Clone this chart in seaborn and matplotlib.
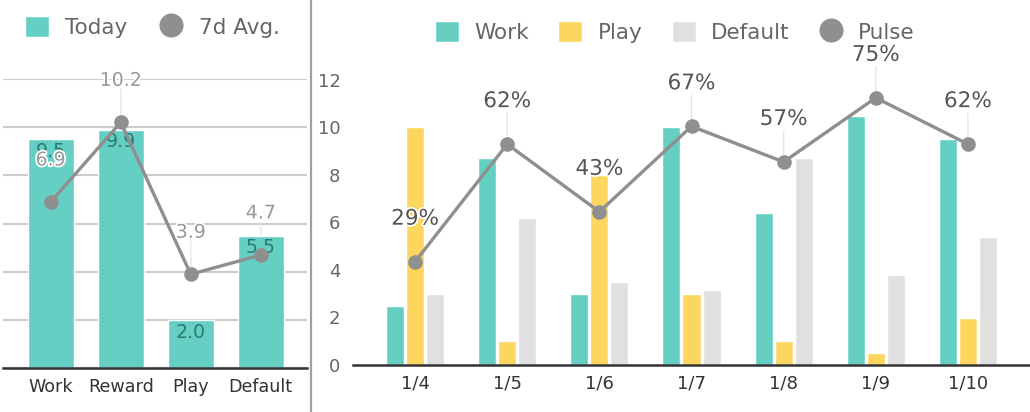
import matplotlib
matplotlib.use("Agg")
import matplotlib.pyplot as plt
import matplotlib.patheffects as pe
from matplotlib.patches import Patch
from matplotlib.lines import Line2D
import pandas as pd
import seaborn as sns

# ---------------- data ----------------
left_cats = ["Work", "Reward", "Play", "Default"]
today = [9.5, 9.9, 2.0, 5.5]
avg7 = [6.9, 10.2, 3.9, 4.7]

dates = ["1/4", "1/5", "1/6", "1/7", "1/8", "1/9", "1/10"]
work = [2.5, 8.7, 3.0, 10.0, 6.4, 10.5, 9.5]
play = [10.0, 1.0, 8.0, 3.0, 1.0, 0.5, 2.0]
default = [3.0, 6.2, 3.5, 3.15, 8.7, 3.8, 5.4]
pulse_values = [4.35, 9.3, 6.45, 10.05, 8.55, 11.25, 9.3]
pulse_labels = ["29%", "62%", "43%", "67%", "57%", "75%", "62%"]
series_names = ["Work", "Play", "Default"]

TEAL = "#66cfc4"
YELLOW = "#fcd65e"
LIGHT = "#e0e0e0"
GRAY = "#8f8f8f"
DARKTEAL = "#2b7a72"

sns.set_style("white")
plt.rcParams["font.family"] = ["DejaVu Sans"]

W, H = 1030, 412
fig = plt.figure(figsize=(W / 100, H / 100), dpi=100)

axL = fig.add_axes([3 / W, (H - 368.3) / H, 304 / W, (368.3 - 79) / H])
axR = fig.add_axes([353 / W, (H - 365) / H, 677 / W, 285 / H])

stroke = [pe.withStroke(linewidth=2.5, foreground="white")]

# ---------------- left chart ----------------
sns.barplot(x=left_cats, y=today, color=TEAL, saturation=1, width=46 / 70,
            ax=axL, zorder=2)
sns.pointplot(x=left_cats, y=avg7, color=GRAY, markers="o", linestyles="-",
              errorbar=None, ax=axL, markersize=10.5, linewidth=2.4,
              markeredgewidth=0, zorder=4)

for i, v in enumerate(today):
    axL.annotate(f"{v:.1f}", (i, v), xytext=(0, -12), textcoords="offset pixels",
                 ha="center", va="center", fontsize=13.6, color=DARKTEAL, zorder=3)
for i, v in enumerate(avg7):
    axL.annotate("", xy=(i, v), xytext=(0, 33), textcoords="offset pixels",
                 arrowprops=dict(arrowstyle="-", color="#e6e6e6", lw=1,
                                 shrinkA=0, shrinkB=0), zorder=1)
    axL.annotate(f"{v:.1f}", (i, v), xytext=(0, 42), textcoords="offset pixels",
                 ha="center", va="center", fontsize=13.6, color="#999999",
                 path_effects=stroke, zorder=6, annotation_clip=False)

axL.set_xlim(-0.681, 3.66)
axL.set_ylim(0, 12)
axL.set_yticks(range(0, 13, 2))
axL.set_yticklabels([])
axL.tick_params(axis="y", length=0)
axL.yaxis.grid(True, color="#cccccc", lw=1.5)
axL.set_axisbelow(True)
for s in ["left", "right", "top"]:
    axL.spines[s].set_visible(False)
axL.spines["bottom"].set_color("#333333")
axL.spines["bottom"].set_linewidth(1.8)
axL.spines["bottom"].set_zorder(5)
axL.tick_params(axis="x", length=0, pad=7, labelsize=12.6, labelcolor="#333333")
axL.set_xlabel("")
axL.set_ylabel("")

# ---------------- right chart ----------------
df = pd.DataFrame({
    "date": dates * 3,
    "series": [n for n in series_names for _ in dates],
    "value": work + play + default,
})
sns.barplot(data=df, x="date", y="value", hue="series", hue_order=series_names,
            palette={"Work": TEAL, "Play": YELLOW, "Default": LIGHT},
            saturation=1, width=60 / 92, gap=0.1, legend=False, ax=axR, zorder=2)
sns.pointplot(x=dates, y=pulse_values, color=GRAY, markers="o", linestyles="-",
              errorbar=None, ax=axR, markersize=10.5, linewidth=2.4,
              markeredgewidth=0, zorder=4)

for i, (v, lab) in enumerate(zip(pulse_values, pulse_labels)):
    axR.annotate("", xy=(i, v), xytext=(0, 31), textcoords="offset pixels",
                 arrowprops=dict(arrowstyle="-", color="#e6e6e6", lw=1,
                                 shrinkA=0, shrinkB=0), zorder=1)
    axR.annotate(lab, (i, v), xytext=(0, 43), textcoords="offset pixels",
                 ha="center", va="center", fontsize=15.5, color="#555555",
                 path_effects=stroke, zorder=6, annotation_clip=False)

axR.set_xlim(-0.674, 6.674)
axR.set_ylim(0, 12)
axR.set_yticks(range(0, 13, 2))
for s in ["left", "right", "top"]:
    axR.spines[s].set_visible(False)
axR.spines["bottom"].set_color("#333333")
axR.spines["bottom"].set_linewidth(1.8)
axR.tick_params(axis="y", length=0, pad=9, labelsize=13, labelcolor="#666666")
axR.tick_params(axis="x", length=0, pad=7, labelsize=13, labelcolor="#333333")
axR.set_xlabel("")
axR.set_ylabel("")

# ---------------- separator ----------------
fig.add_artist(Line2D([311 / W, 311 / W], [0, 1], transform=fig.transFigure,
                      color="#a0a0a0", lw=1.6))

# ---------------- legends ----------------
fs = 15.5
hl = 24 / 21.5

def circle_handle(label):
    return Line2D([], [], marker="o", linestyle="none", markersize=17.3,
                  markerfacecolor=GRAY, markeredgewidth=0, label=label)

fig.legend(handles=[Patch(facecolor=TEAL, label="Today"), circle_handle("7d Avg.")],
           loc="center left", bbox_to_anchor=(25 / W, 1 - 27 / H),
           bbox_transform=fig.transFigure, ncol=2, frameon=False,
           fontsize=fs, labelcolor="#666666", handlelength=hl, handleheight=hl,
           handletextpad=0.72, columnspacing=1.5, borderpad=0, borderaxespad=0)
fig.legend(handles=[Patch(facecolor=TEAL, label="Work"),
                    Patch(facecolor=YELLOW, label="Play"),
                    Patch(facecolor=LIGHT, label="Default"),
                    circle_handle("Pulse")],
           loc="center left", bbox_to_anchor=(435 / W, 1 - 32 / H),
           bbox_transform=fig.transFigure, ncol=4, frameon=False,
           fontsize=fs, labelcolor="#666666", handlelength=hl, handleheight=hl,
           handletextpad=0.72, columnspacing=1.35, borderpad=0, borderaxespad=0)

fig.savefig("out.png", dpi=100)
